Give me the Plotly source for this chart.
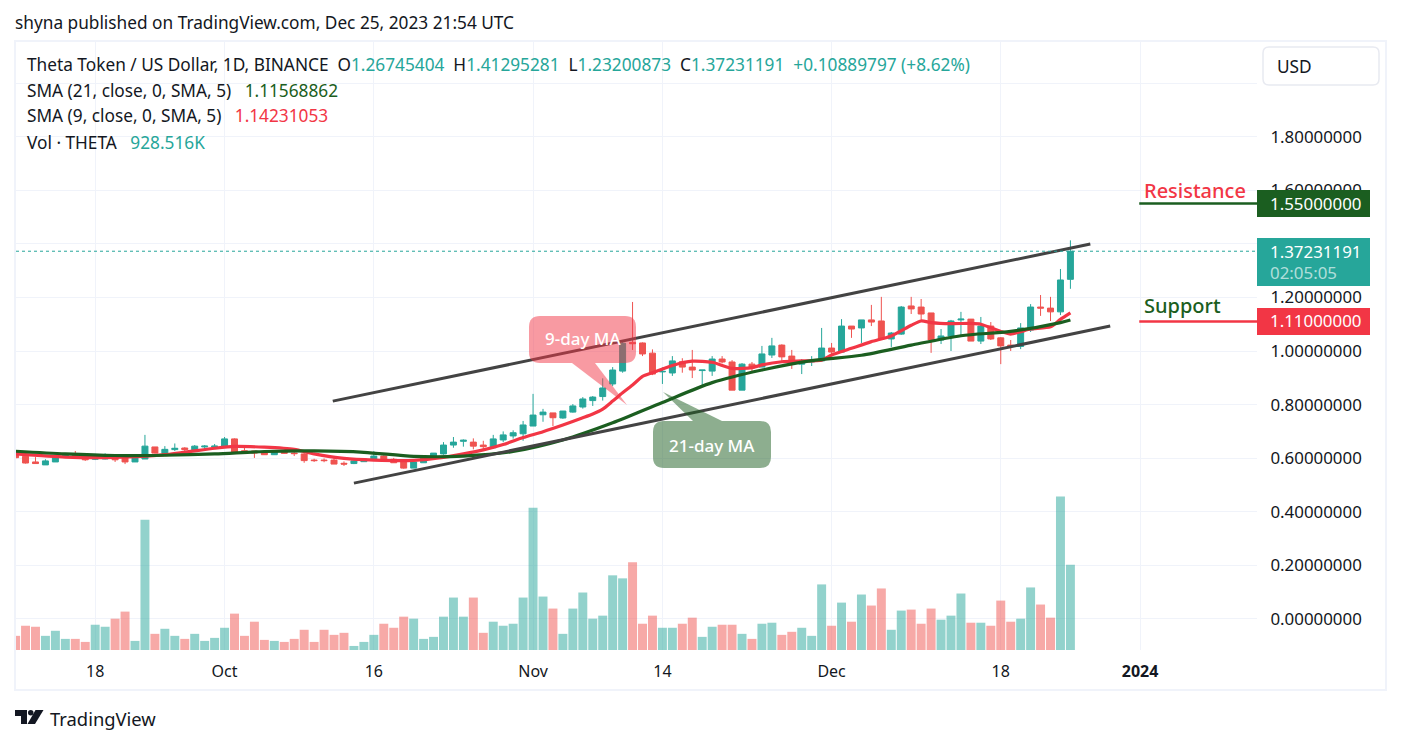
import pandas as pd
import plotly.graph_objects as go

W, H = 1401, 744
dates = pd.date_range("2023-09-10", "2023-12-25", freq="D")

opens = [.628,.607,.586,.575,.586,.606,.614,.612,.596,.597,.612,.601,.586,.597,.642,.618,.632,.638,.631,.642,.642,
         .641,.672,.628,.627,.621,.613,.624,.619,.616,.593,.593,.593,.581,.580,.587,.593,.608,.596,.586,.563,.583,.604,.616,.649,
         .663,.660,.649,.639,.668,.683,.691,.720,.762,.769,.750,.772,.791,.815,.830,.877,.925,1.032,1.030,.992,.922,.918,.960,.940,.927,.925,.970,.959,.854,.951,.940,.985,1.022,.981,.951,.959,.963,
         1.011,.996,1.093,1.086,1.116,1.112,1.045,1.063,1.168,1.164,1.142,1.041,1.056,1.116,1.119,1.037,1.093,1.049,1.022,1.017,1.078,1.164,1.160,1.146,1.26745404]
highs = [.628,.607,.604,.596,.608,.618,.627,.616,.616,.618,.612,.606,.603,.687,.642,.645,.655,.641,.649,.649,.653,
         .679,.674,.638,.627,.626,.628,.628,.626,.621,.598,.599,.601,.588,.593,.599,.626,.611,.601,.593,.593,.611,.619,.660,.679,
         .670,.674,.665,.687,.700,.704,.739,.840,.784,.769,.776,.802,.828,.832,.898,.940,1.041,1.183,1.032,1.006,.939,.981,.973,1.004,.929,.981,.981,.966,.955,.959,1.019,1.049,1.025,1.004,.970,.981,1.086,
         1.030,1.119,1.093,1.116,1.172,1.202,1.071,1.168,1.202,1.194,1.142,1.082,1.116,1.146,1.119,1.127,1.108,1.052,1.041,1.104,1.175,1.209,1.202,1.306,1.41295281]
lows = [.597,.580,.580,.575,.586,.602,.606,.590,.593,.596,.586,.578,.586,.597,.618,.618,.627,.623,.627,.634,.634,
        .638,.616,.622,.601,.612,.612,.616,.608,.583,.586,.585,.578,.571,.578,.587,.593,.586,.583,.561,.563,.583,.598,.613,.639,
        .643,.633,.633,.636,.660,.673,.665,.720,.736,.720,.747,.770,.785,.795,.815,.869,.919,1.004,.981,.910,.877,.907,.919,.899,.867,.907,.954,.854,.854,.922,.940,.974,.963,.933,.914,.944,.963,
        .985,.996,1.049,1.030,1.093,1.041,1.015,1.060,1.138,1.116,.993,1.026,1.000,1.052,1.037,1.026,1.041,.951,1.000,1.007,1.071,1.131,1.112,1.134,1.23200873]
closes = [.602,.582,.580,.590,.606,.611,.609,.594,.601,.612,.594,.586,.601,.645,.619,.633,.637,.632,.645,.645,.645,
          .672,.623,.624,.619,.613,.623,.618,.617,.591,.591,.591,.578,.578,.590,.597,.608,.592,.583,.563,.586,.608,.619,.649,.660,
          .667,.645,.643,.672,.687,.695,.724,.761,.772,.751,.776,.795,.821,.828,.862,.929,1.029,1.027,.989,.914,.924,.963,.940,.929,.929,.970,.959,.854,.951,.937,.989,1.019,.978,.951,.963,.963,1.011,
          .996,1.093,1.082,1.116,1.108,1.045,1.067,1.164,1.157,1.138,1.041,1.056,1.112,1.119,1.037,1.093,1.045,1.019,1.017,1.086,1.164,1.160,1.146,1.265,1.37231191]
volumes_k = [154,264,253,154,209,121,121,88,275,253,341,418,99,1418,176,231,154,121,176,99,132,
             242,396,154,308,110,99,88,121,220,88,220,165,187,44,88,165,286,242,363,341,121,143,363,571,
             363,571,187,308,264,286,571,1549,582,451,176,451,626,341,374,813,780,956,286,374,242,242,286,352,143,253,275,275,176,121,286,297,165,198,242,154,714,
             264,516,308,604,484,670,220,429,440,286,451,330,374,615,297,297,264,538,308,341,681,495,352,1670,928.516]

sma21_dates = ["2023-09-10","2023-09-15","2023-09-20","2023-09-25","2023-09-30","2023-10-05","2023-10-10","2023-10-15","2023-10-20","2023-10-25","2023-10-30","2023-11-04","2023-11-09","2023-11-14","2023-11-19","2023-11-24","2023-11-29","2023-12-04","2023-12-09","2023-12-14","2023-12-19","2023-12-24","2023-12-25"]
sma21 = [.626,.616,.610,.611,.616,.625,.627,.622,.607,.608,.625,.668,.732,.808,.882,.929,.964,.984,1.022,1.057,1.073,1.106,1.11568862]

sma9_dates = ["2023-09-10","2023-09-15","2023-09-20","2023-09-25","2023-09-30","2023-10-02","2023-10-05","2023-10-08","2023-10-10","2023-10-13","2023-10-16","2023-10-20","2023-10-23","2023-10-25","2023-10-27","2023-10-29","2023-10-31","2023-11-02","2023-11-04","2023-11-06","2023-11-07","2023-11-08","2023-11-09","2023-11-10","2023-11-11","2023-11-12","2023-11-13","2023-11-15","2023-11-17","2023-11-19","2023-11-21","2023-11-23","2023-11-24","2023-11-26","2023-11-28","2023-11-30","2023-12-01","2023-12-03","2023-12-05","2023-12-07","2023-12-09","2023-12-10","2023-12-11","2023-12-13","2023-12-15","2023-12-16","2023-12-18","2023-12-19","2023-12-20","2023-12-21","2023-12-23","2023-12-24","2023-12-25"]
sma9 = [.616,.604,.603,.613,.637,.644,.641,.633,.616,.599,.593,.592,.603,.616,.631,.651,.677,.699,.724,.751,.765,.783,.813,.844,.873,.905,.919,.946,.962,.958,.935,.938,.948,.960,.963,.966,.985,1.010,1.035,1.056,1.096,1.112,1.106,1.102,1.103,1.100,1.073,1.063,1.072,1.082,1.090,1.118,1.14231053]

channel_up_dates = ["2023-10-11 21:00", "2023-12-27 00:00"]
channel_up = [.813, 1.399]
channel_lo_dates = ["2023-10-14 00:00", "2023-12-29 00:00"]
channel_lo = [.507, 1.093]
level_dates = ["2023-12-31 22:00", "2024-01-13 00:00"]
resistance = 1.55
support = 1.11
price_ticks = [0, .2, .4, .6, .8, 1.0, 1.2, 1.4, 1.6, 1.8, 2.0]
price_labels = ["0.00000000","0.20000000","0.40000000","0.60000000","0.80000000","1.00000000","1.20000000","1.40000000","1.60000000","1.80000000",""]
time_ticks = ["2023-09-18","2023-10-01","2023-10-16","2023-11-01","2023-11-14","2023-12-01","2023-12-18","2024-01-01"]
time_labels = ["18","Oct","16","Nov","14","Dec","18","<b>2024</b>"]

UP, DOWN = "#26A69A", "#EF5350"
RED, GREEN = "#F23645", "#1B5E20"
INK, GRID = "#131722", "#F0F3FA"
FONT = "Noto Sans"

def px(x): return x / W
def py(y): return 1 - y / H

def rect_path(x0, y0, x1, y1, r):
    return (f"M {px(x0+r)} {py(y0)} L {px(x1-r)} {py(y0)} Q {px(x1)} {py(y0)} {px(x1)} {py(y0+r)} "
            f"L {px(x1)} {py(y1-r)} Q {px(x1)} {py(y1)} {px(x1-r)} {py(y1)} L {px(x0+r)} {py(y1)} "
            f"Q {px(x0)} {py(y1)} {px(x0)} {py(y1-r)} L {px(x0)} {py(y0+r)} Q {px(x0)} {py(y0)} {px(x0+r)} {py(y0)} Z")

def poly(points):
    return "M " + " L ".join(f"{px(a)} {py(b)}" for a, b in points) + " Z"

def text(x, y, s, size=16, color=INK, anchor="left", weight=None):
    return dict(xref="paper", yref="paper", x=px(x), y=py(y), text=s, showarrow=False,
                xanchor=anchor, yanchor="middle", align="left",
                font=dict(family=FONT, size=size, color=color, weight=weight))

fig = go.Figure()
vol_colors = ["rgba(38,166,154,.5)" if c >= o else "rgba(239,83,80,.5)" for o, c in zip(opens, closes)]
fig.add_bar(x=dates, y=volumes_k, marker=dict(color=vol_colors, line_width=0), width=0.9*86400000, yaxis="y", showlegend=False)
fig.add_candlestick(x=dates, open=opens, high=highs, low=lows, close=closes, yaxis="y2", showlegend=False,
                    increasing=dict(line=dict(color=UP, width=1), fillcolor=UP),
                    decreasing=dict(line=dict(color=DOWN, width=1), fillcolor=DOWN))
fig.add_scatter(x=sma9_dates, y=sma9, mode="lines", yaxis="y2", showlegend=False, line=dict(color=RED, width=3.2, shape="spline", smoothing=0.6))
fig.add_scatter(x=sma21_dates, y=sma21, mode="lines", yaxis="y2", showlegend=False, line=dict(color=GREEN, width=3.2, shape="spline", smoothing=0.8))
fig.add_scatter(x=channel_up_dates, y=channel_up, mode="lines", yaxis="y2", showlegend=False, line=dict(color="#434343", width=3))
fig.add_scatter(x=channel_lo_dates, y=channel_lo, mode="lines", yaxis="y2", showlegend=False, line=dict(color="#434343", width=3))
fig.add_scatter(x=level_dates, y=[resistance]*2, mode="lines", yaxis="y2", showlegend=False, line=dict(color=GREEN, width=2.5))
fig.add_scatter(x=level_dates, y=[support]*2, mode="lines", yaxis="y2", showlegend=False, line=dict(color=RED, width=2.5))

shapes = [
    dict(type="rect", xref="paper", yref="paper", x0=px(15), x1=px(1386), y0=py(690), y1=py(41), line=dict(color=GRID, width=2), layer="below"),
    dict(type="line", xref="x domain", yref="y2", x0=0, x1=1, y0=closes[-1], y1=closes[-1], line=dict(color=UP, width=1, dash="dot"), layer="above"),
    # callouts
    dict(type="path", xref="paper", yref="paper", path=rect_path(529, 316, 636, 363, 11), fillcolor="rgba(242,54,69,.5)", line_width=0),
    dict(type="path", xref="paper", yref="paper", path=poly([(572, 363), (595, 363), (627, 405)]), fillcolor="rgba(242,54,69,.5)", line_width=0),
    dict(type="path", xref="paper", yref="paper", path=rect_path(653, 421, 771, 468, 11), fillcolor="rgba(27,94,32,.5)", line_width=0),
    dict(type="path", xref="paper", yref="paper", path=poly([(693, 421), (722, 421), (663, 392)]), fillcolor="rgba(27,94,32,.5)", line_width=0),
    # price tags
    dict(type="rect", xref="paper", yref="paper", x0=px(1257), x1=px(1370), y0=py(217), y1=py(190), fillcolor=GREEN, line_width=0),
    dict(type="rect", xref="paper", yref="paper", x0=px(1257), x1=px(1370), y0=py(286), y1=py(238), fillcolor=UP, line_width=0),
    dict(type="rect", xref="paper", yref="paper", x0=px(1257), x1=px(1370), y0=py(335), y1=py(308), fillcolor=RED, line_width=0),
    # USD button
    dict(type="path", xref="paper", yref="paper", path=rect_path(1263, 47, 1379, 85, 6), fillcolor="white", line=dict(color="#E8EAF1", width=1.5)),
    # logo
    dict(type="path", xref="paper", yref="paper", path=poly([(15, 710), (27, 710), (27, 724), (21, 724), (21, 716), (15, 716)]), fillcolor=INK, line_width=0),
    dict(type="circle", xref="paper", yref="paper", x0=px(28), x1=px(33.5), y0=py(715.5), y1=py(710), fillcolor=INK, line_width=0),
    dict(type="path", xref="paper", yref="paper", path=poly([(35.5, 710), (43.5, 710), (35, 724), (27.5, 724)]), fillcolor=INK, line_width=0),
]

teal = lambda s: f'<span style="color:{UP}">{s}</span>'
sp = "\u00a0\u00a0"
sp3 = "\u00a0\u00a0\u00a0"
LEG = 17.25
TAG = 16.9
annotations = [
    text(13, 23, "shyna published on TradingView.com, Dec 25, 2023 21:54 UTC", LEG),
    text(25, 64, f"Theta Token / US Dollar, 1D, BINANCE{sp}O{teal('1.26745404')}{sp}H{teal('1.41295281')}{sp}L{teal('1.23200873')}{sp}C{teal('1.37231191')}{sp}{teal('+0.10889797 (+8.62%)')}", LEG),
    text(25, 90, f'SMA (21, close, 0, SMA, 5){sp3}<span style="color:{GREEN}">1.11568862</span>', LEG),
    text(25, 116, f'SMA (9, close, 0, SMA, 5){sp3}<span style="color:{RED}">1.14231053</span>', LEG),
    text(25, 142, f"Vol \u00b7 THETA{sp3}{teal('928.516K')}", LEG),
    text(582.5, 339, "9-day MA", 17, "white", "center", 500),
    text(712, 445, "21-day MA", 17, "white", "center", 500),
    text(1142, 190, "Resistance", 20, RED, weight=500),
    text(1142, 305.5, "Support", 20, GREEN, weight=500),
    text(1268, 204, "1.55000000", TAG, "white"),
    text(1268, 252, "1.37231191", TAG, "white"),
    text(1268, 272, "02:05:05", TAG, "rgba(255,255,255,.65)"),
    text(1268, 321, "1.11000000", TAG, "white"),
    text(1275, 66, "USD", LEG),
    text(48, 718, "TradingView", 18.4),
]

fig.update_layout(
    width=W, height=H, margin=dict(l=0, r=0, t=0, b=0), paper_bgcolor="white", plot_bgcolor="white",
    showlegend=False, boxgap=0.4, boxgroupgap=0, shapes=shapes, annotations=annotations, dragmode=False,
    xaxis=dict(type="date", domain=[px(16), px(1257)], range=["2023-09-10 01:00", "2024-01-12 18:00"],
               tickvals=time_ticks, ticktext=time_labels, ticks="outside", ticklen=7, tickcolor="rgba(0,0,0,0)",
               gridcolor=GRID, gridwidth=1, showline=False, zeroline=False, rangeslider=dict(visible=False),
               tickfont=dict(family=FONT, size=16, color=INK)),
    yaxis=dict(domain=[py(650), py(42)], range=[0, 6620], visible=False, showgrid=False, zeroline=False),
    yaxis2=dict(domain=[py(650), py(42)], overlaying="y", side="right", anchor="x", range=[-0.1157, 2.153],
                tickvals=price_ticks, ticktext=price_labels, ticks="outside", ticklen=9, tickcolor="rgba(0,0,0,0)",
                gridcolor=GRID, gridwidth=1, showline=False, zeroline=False,
                tickfont=dict(family=FONT, size=TAG, color=INK)),
)
fig.write_html("out.html", config={"displayModeBar": False}, post_script="document.body.style.margin='0';")
